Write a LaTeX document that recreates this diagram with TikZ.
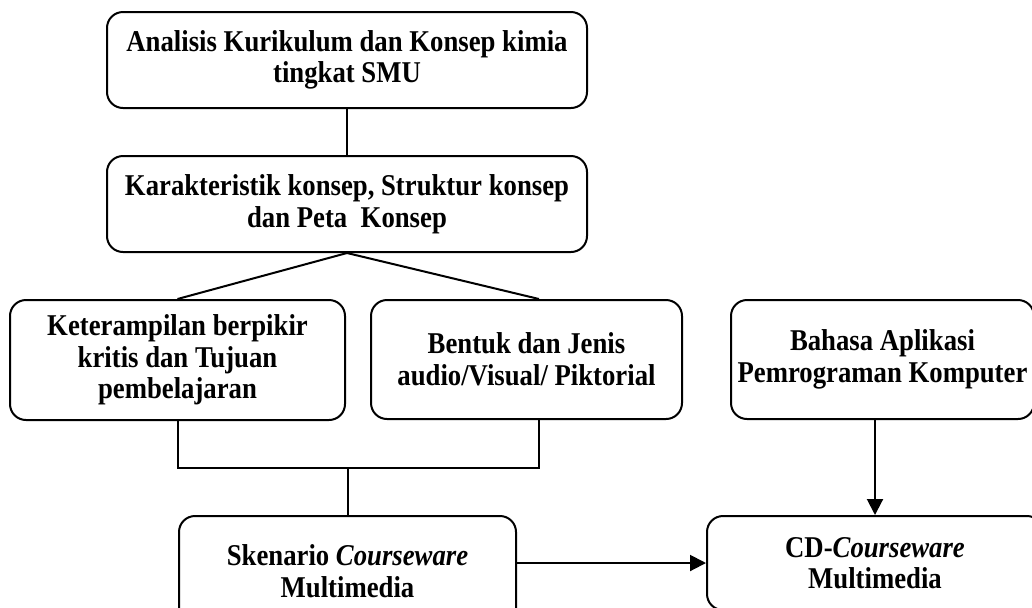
\documentclass[tikz,border=0pt]{standalone}
\usepackage{fontspec}
\setmainfont{Liberation Serif}[FakeStretch=0.885]
\usetikzlibrary{arrows.meta,calc}
\begin{document}
\begin{tikzpicture}[x=0.5pt,y=-0.5pt,
  box/.style={draw,line width=1pt,rounded corners=8pt,align=center,inner sep=2pt,
    font=\fontsize{15.1}{15.8}\selectfont\bfseries},
  conn/.style={line width=1pt},
  arr/.style={line width=1pt,-{Triangle[length=8pt,width=8pt]}}]
\useasboundingbox (0,0) rectangle (1032,607);
\clip (0,0) rectangle (1032,607);
\node[box,minimum width=240pt,minimum height=48pt] (top) at (347,60)
  {Analisis Kurikulum dan Konsep kimia\\tingkat SMU};
\node[box,minimum width=240pt,minimum height=48pt] (second) at (347,204)
  {Karakteristik konsep, Struktur konsep\\dan Peta~ Konsep};
\node[box,minimum width=167.5pt,minimum height=60pt] (left) at (177.5,360)
  {Keterampilan berpikir\\kritis dan Tujuan\\pembelajaran};
\node[box,minimum width=155.5pt,minimum height=59.5pt] (mid) at (526.5,359.5)
  {Bentuk dan Jenis\\audio/Visual/ Piktorial};
\node[box,minimum width=151.5pt,minimum height=59.5pt] (bahasa) at (882.5,359.5)
  {Bahasa Aplikasi\\Pemrograman Komputer};
\node[box,minimum width=168.5pt,minimum height=55pt] (sken) at (347.5,571)
  {Skenario \textit{Courseware}\\Multimedia};
\node[box,minimum width=168pt,minimum height=47pt] (cd) at (875,563)
  {CD-\textit{Courseware}\\Multimedia};
\coordinate (mj) at (539,0);
\coordinate (bj) at (0,468);
\draw[conn] (top.south) -- (second.south |- second.north);
\draw[conn] (second.south) -- (left.north);
\draw[conn] (second.south) -- (mid.north -| mj);
\draw[conn] (left.south) -- (left.south |- bj) -- (mj |- bj) -- (mid.south -| mj);
\draw[conn] (sken.north |- bj) -- (sken.north);
\draw[arr] (bahasa.south -| cd.north) -- (cd.north);
\draw[arr] (sken.east |- cd.west) -- (cd.west);
\end{tikzpicture}
\end{document}
